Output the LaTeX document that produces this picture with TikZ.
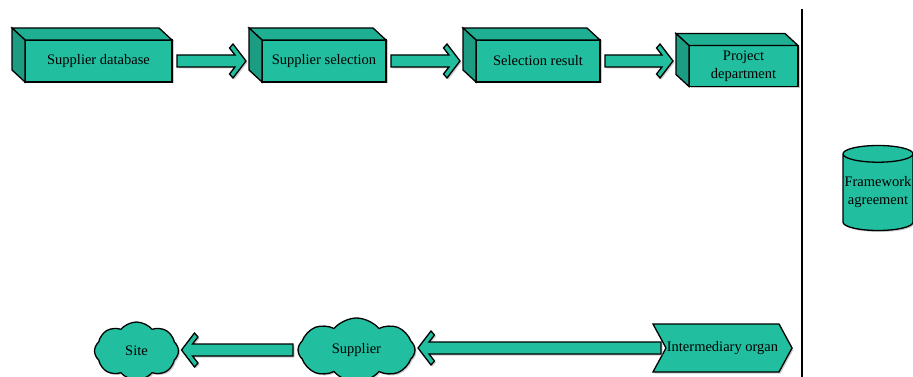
\documentclass[tikz,border=0pt]{standalone}
\usepackage{fontspec}
\setmainfont{Liberation Serif}
\usepackage{tikz}
\usetikzlibrary{calc,positioning,shadows}
\usetikzlibrary{shapes.geometric,shapes.symbols}
\definecolor{sea}{RGB}{34,190,160}
\tikzset{  dropsh/.style={drop shadow={shadow xshift=1.5pt,shadow yshift=-1.5pt,fill=black!40,opacity=.5}},
  block/.style={draw,fill=sea,line width=1.3pt,dropsh,inner sep=0pt,outer sep=0pt,font=\fontsize{14.5}{17}\selectfont,align=center},
  face/.style={block,minimum height=42pt},
  puff/.style={block,cloud,cloud puffs=8,cloud puff arc=100,cloud ignores aspect},
  fat/.style={draw,fill=sea,line width=1.3pt,line join=miter,dropsh} }
\newcommand{\boxsides}[1]{%
  \draw[line width=1.3pt,fill=sea!92!black] (#1.north west) -- ++(-13,12) -- ([shift={(-13,12)}]#1.north east) -- (#1.north east) -- cycle;
  \draw[line width=1.3pt,fill=sea!82!black] (#1.north west) -- ++(-13,12) -- ([shift={(-13,12)}]#1.south west) -- (#1.south west) -- cycle;}
\newcommand{\flowedge}[2]{%
  \path[fat] let \p1=(#1), \p2=(#2), \n1={ifthenelse(\x2>\x1,1,-1)}, \n2={\x1+5*\n1}, \n3={\x2-3*\n1} in
    (\n2,\y1+6) -- ({\n3-11*\n1},\y1+6) -- ({\n3-16.5*\n1},\y1+13) -- ({\n3-13*\n1},\y1+17) -- (\n3,\y1)
    -- ({\n3-13*\n1},\y1-17) -- ({\n3-16.5*\n1},\y1-13) -- ({\n3-11*\n1},\y1-6) -- (\n2,\y1-6) -- cycle;}

\begin{document}
\begin{tikzpicture}[x=1pt,y=1pt]
  \useasboundingbox (0,0) rectangle (913,-377);
  \node[face,minimum width=147pt] (db) at (98.5,-61) {Supplier database};
  \node[face,minimum width=124pt,right=90pt of db] (sel) {Supplier selection};
  \node[face,minimum width=124pt,right=90pt of sel] (res) {Selection result};
  \node[face,minimum width=109pt,minimum height=41pt,right=89pt of res,yshift=-5pt] (proj) {Project\\[1pt]department};
  \boxsides{db}
  \boxsides{sel}
  \boxsides{res}
  \boxsides{proj}
  \flowedge{db.east}{$(sel.west)+(-13,0)$}
  \flowedge{sel.east}{$(res.west)+(-13,0)$}
  \flowedge{res.east}{$(proj.west)+(-13,0)$}
  \draw[line width=1.3pt] (802,-9) -- (802,-377);
  \node[block,cylinder,shape border rotate=90,aspect=0.25,minimum width=70pt,minimum height=85pt] (frame) at (878,-192.5)
    {\raisebox{-8pt}{\begin{tabular}{@{}c@{}}Framework\\[1pt]agreement\end{tabular}}};
  \node[block,signal,signal to=east,signal from=west,signal pointer angle=123,minimum height=48pt] (org) at (722.5,-348) {\makebox[113pt]{Intermediary organ}};
  \node[puff,minimum width=117pt,minimum height=64pt] (sup) at (356.5,-350) {Supplier};
  \node[puff,minimum width=84pt,minimum height=58pt] (site) at (136.5,-351) {Site};
  \flowedge{org.west}{sup.east}
  \flowedge{sup.west}{site.east}
\end{tikzpicture}
\end{document}
